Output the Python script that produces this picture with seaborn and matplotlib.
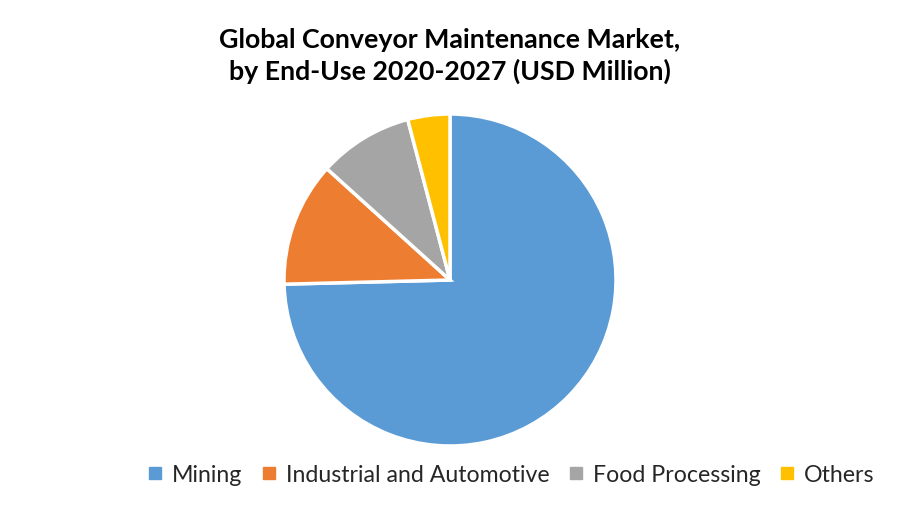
import matplotlib
matplotlib.use("Agg")
import matplotlib.pyplot as plt
from matplotlib.lines import Line2D
import seaborn as sns

categories = ["Mining", "Industrial and Automotive", "Food Processing", "Others"]
shares = [74.6, 12.1, 9.2, 4.1]
colors = ["#5B9BD5", "#ED7D31", "#A5A5A5", "#FFC000"]
title = "Global Conveyor Maintenance Market,\nby End-Use 2020-2027 (USD Million)"

sns.set_theme(style="white")
plt.rcParams['font.family'] = ['Lato', 'DejaVu Sans']

fig = plt.figure(figsize=(9, 5.25), dpi=100)
W, H = 900, 525
cx, cy, r = 450, 280, 166
ax = fig.add_axes([(cx - r) / W, (H - cy - r) / H, 2 * r / W, 2 * r / H])
ax.pie(shares, colors=sns.color_palette(colors), startangle=90, counterclock=False,
       wedgeprops=dict(edgecolor="white", linewidth=2.5), radius=1.0)
ax.set_xlim(-1, 1)
ax.set_ylim(-1, 1)
ax.set_aspect("equal")
ax.axis("off")

fig.text(0.5, 1 - 56 / H, title, ha="center", va="center", fontsize=19.3,
         fontweight="bold", linespacing=1.3, color="black")

handles = [Line2D([0], [0], marker="s", linestyle="none", markersize=8,
                  markerfacecolor=c, markeredgecolor=c) for c in colors]
fig.legend(handles, categories, loc="center", bbox_to_anchor=(510 / W, 1 - 475 / H),
           ncol=4, frameon=False, fontsize=16.7, handletextpad=0.35,
           columnspacing=0.72, handlelength=0.8)

fig.savefig("out.png", dpi=100)
